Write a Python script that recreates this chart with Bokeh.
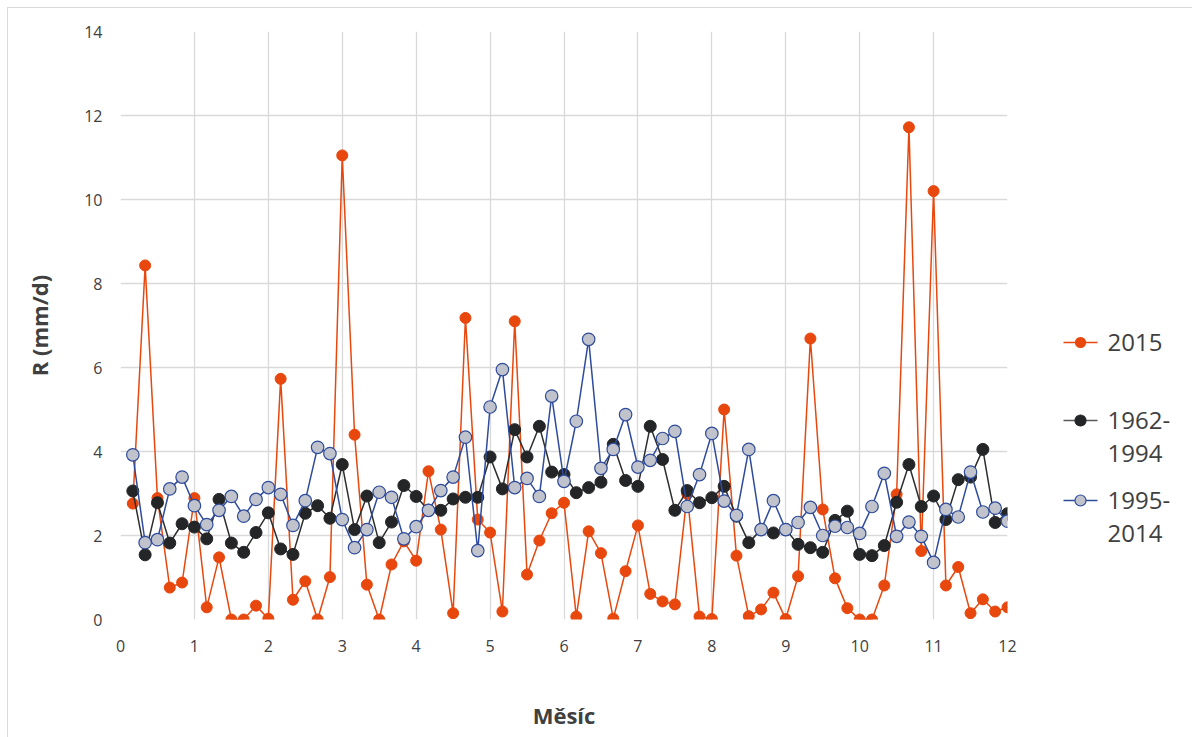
from bokeh.plotting import figure
from bokeh.models import Range1d, FixedTicker
from bokeh.layouts import row
from bokeh.core.properties import value
from bokeh.embed import file_html
from bokeh.resources import INLINE

# pentad positions (month fraction)
pentad = [k / 6 for k in range(1, 73)]

r2015 = [2.76, 8.43, 2.89, 0.76, 0.88, 2.89, 0.29, 1.48, 0.0, 0.0, 0.33, 0.02,
         5.73, 0.47, 0.91, 0.0, 1.01, 11.05, 4.40, 0.83, 0.0, 1.31, 1.86, 1.40,
         3.53, 2.14, 0.15, 7.18, 2.38, 2.07, 0.19, 7.10, 1.07, 1.88, 2.53, 2.78,
         0.07, 2.10, 1.58, 0.02, 1.15, 2.24, 0.61, 0.43, 0.36, 2.99, 0.07, 0.01,
         5.00, 1.52, 0.08, 0.24, 0.64, 0.01, 1.03, 6.69, 2.62, 0.98, 0.27, 0.0,
         0.0, 0.81, 2.98, 11.72, 1.63, 10.20, 0.81, 1.25, 0.15, 0.48, 0.19, 0.29]

r1962_1994 = [3.06, 1.54, 2.78, 1.82, 2.28, 2.20, 1.92, 2.86, 1.82, 1.60, 2.07, 2.54,
              1.68, 1.55, 2.53, 2.71, 2.41, 3.69, 2.14, 2.94, 1.83, 2.32, 3.19, 2.93,
              2.60, 2.60, 2.87, 2.91, 2.91, 3.87, 3.11, 4.52, 3.87, 4.60, 3.51, 3.45,
              3.02, 3.14, 3.27, 4.17, 3.31, 3.17, 4.60, 3.81, 2.60, 3.07, 2.78, 2.90,
              3.17, 2.46, 1.83, 2.14, 2.06, 2.14, 1.79, 1.71, 1.60, 2.36, 2.58, 1.55,
              1.52, 1.76, 2.79, 3.69, 2.69, 2.94, 2.38, 3.33, 3.39, 4.05, 2.31, 2.52]

r1995_2014 = [3.92, 1.83, 1.90, 3.11, 3.39, 2.71, 2.26, 2.60, 2.93, 2.46, 2.86, 3.14,
              2.98, 2.24, 2.83, 4.10, 3.95, 2.38, 1.71, 2.14, 3.03, 2.91, 1.92, 2.21,
              2.60, 3.07, 3.39, 4.34, 1.64, 5.06, 5.95, 3.14, 3.36, 2.93, 5.32, 3.29,
              4.72, 6.67, 3.60, 4.05, 4.88, 3.63, 3.79, 4.31, 4.48, 2.69, 3.45, 4.43,
              2.82, 2.48, 4.05, 2.14, 2.83, 2.14, 2.31, 2.67, 2.00, 2.22, 2.19, 2.05,
              2.69, 3.48, 1.98, 2.32, 1.98, 1.36, 2.62, 2.44, 3.51, 2.56, 2.65, 2.34]

series_labels_l1 = ["2015", "1962-", "1995-"]
series_labels_l2 = ["", "1994", "2014"]

x_ticks = list(range(0, 13))
y_ticks = list(range(0, 15, 2))

FONT = "Open Sans"
TXT = "#404040"
GRID = "#d9d9d9"

ORANGE = "#e8470d"
BLACK = "#232527"
BLACK_LINE = "#2b2d2f"
BLUE_LINE = "#2e4b9c"
BLUE_FILL = "#c0c3cb"

MAIN_W, H = 1009, 729
p = figure(width=MAIN_W, height=H, output_backend="svg", toolbar_location=None,
           x_range=Range1d(0, 12), y_range=Range1d(0, 14),
           min_border_left=112, min_border_top=23, min_border_right=10,
           min_border_bottom=118)
p.outline_line_color = None
p.background_fill_color = "white"
p.border_fill_color = "white"

for ax in (p.xaxis[0], p.yaxis[0]):
    ax.axis_line_color = None
    ax.major_tick_line_color = None
    ax.minor_tick_line_color = None
    ax.major_tick_out = 0
    ax.major_tick_in = 0
    ax.minor_tick_out = 0
    ax.major_label_text_font = FONT
    ax.major_label_text_font_size = "16px"
    ax.major_label_text_color = TXT
    ax.axis_label_text_font = FONT
    ax.axis_label_text_font_style = "bold"
    ax.axis_label_text_font_size = "22px"
    ax.axis_label_text_color = TXT

p.xaxis.ticker = FixedTicker(ticks=x_ticks)
p.yaxis.ticker = FixedTicker(ticks=y_ticks)
p.xaxis.axis_label = "Měsíc"
p.yaxis.axis_label = "R (mm/d)"
p.xaxis.major_label_standoff = 20
p.yaxis.major_label_standoff = 18
p.xaxis.axis_label_standoff = 45
p.yaxis.axis_label_standoff = 27

p.xgrid.ticker = FixedTicker(ticks=x_ticks)
p.ygrid.ticker = FixedTicker(ticks=y_ticks)
p.xgrid.grid_line_color = GRID
p.ygrid.grid_line_color = GRID
p.xgrid.grid_line_width = 1.3
p.ygrid.grid_line_width = 1.3

p.line(pentad, r2015, line_color=ORANGE, line_width=1.5)
p.scatter(pentad, r2015, size=11, fill_color=ORANGE, line_color=ORANGE)
p.line(pentad, r1962_1994, line_color=BLACK_LINE, line_width=1.5)
p.scatter(pentad, r1962_1994, size=12, fill_color=BLACK, line_color=BLACK)
p.line(pentad, r1995_2014, line_color=BLUE_LINE, line_width=1.5)
p.scatter(pentad, r1995_2014, size=12.5, fill_color=BLUE_FILL, line_color=BLUE_LINE,
          line_width=1.2)

# legend panel: its frame is aligned with the main frame (page y 31..619),
# so its y range is expressed in page pixels (downward).
LEG_W = 1184 - MAIN_W
lg = figure(width=LEG_W, height=H, output_backend="svg", toolbar_location=None,
            x_range=Range1d(0, LEG_W), y_range=Range1d(619, 31),
            x_axis_type=None, y_axis_type=None,
            min_border_left=0, min_border_right=0, min_border_top=23, min_border_bottom=118)
lg.outline_line_color = None
lg.xgrid.visible = False
lg.ygrid.visible = False

row_y = [342, 420, 500]
line_colors = [ORANGE, "#595959", BLUE_LINE]
fills = [ORANGE, BLACK, BLUE_FILL]
outlines = [ORANGE, BLACK, BLUE_LINE]
sizes = [10, 11, 11]
for l1, l2, yc, lc, fc, oc, sz in zip(series_labels_l1, series_labels_l2, row_y,
                                      line_colors, fills, outlines, sizes):
    lg.segment(x0=[46], y0=[yc], x1=[80], y1=[yc], line_color=lc, line_width=1.5)
    lg.scatter([63], [yc], size=sz, fill_color=fc, line_color=oc, line_width=1.2)
    lg.text([90], [yc], text=[l1], text_font=value(FONT), text_font_size="24px",
            text_color=TXT, text_baseline="middle")
    if l2:
        lg.text([90], [yc + 33], text=[l2], text_font=value(FONT), text_font_size="24px",
                text_color=TXT, text_baseline="middle")

layout = row(p, lg)
layout.styles = {"margin-left": "7px", "margin-top": "7px",
                 "border-left": "1px solid #d9d9d9", "border-top": "1px solid #d9d9d9"}

open("out.html", "w").write(file_html(layout, INLINE))
